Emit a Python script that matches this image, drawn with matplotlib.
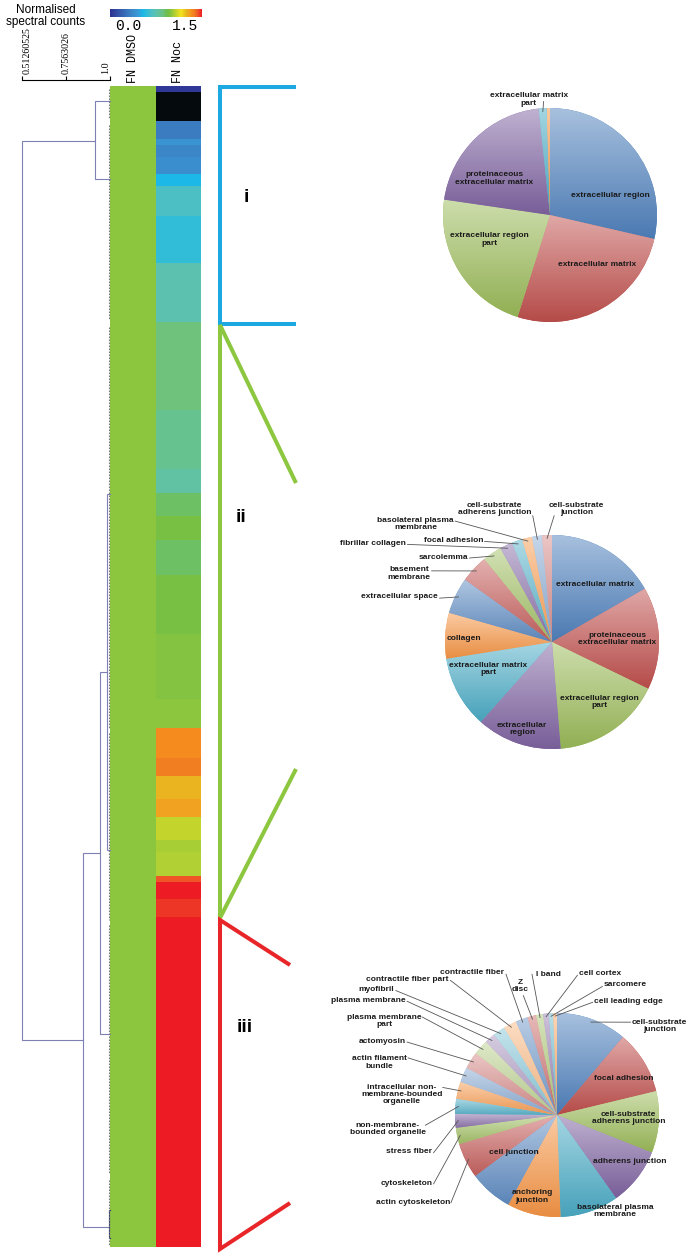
import numpy as np
import matplotlib
matplotlib.use("Agg")
import matplotlib.pyplot as plt
from matplotlib.colors import LinearSegmentedColormap, to_rgb
from matplotlib.transforms import ScaledTranslation

plt.rcParams['font.family'] = ['Liberation Sans', 'DejaVu Sans']

W, H = 691, 1257

# ------------------------------------------------------------------ data
colorbar_title = "Normalised\nspectral counts"
colorbar_ticks = ["0.0", "1.5"]
columns = ["FN DMSO", "FN Noc"]

# heatmap: number of proteins in each block and normalised counts
row_counts = [1, 5, 3, 1, 2, 3, 2, 5, 8, 10, 15, 10, 4, 4, 4, 6, 10, 11, 5,
              5, 3, 4, 3, 4, 2, 4, 1, 3, 3, 56]
fn_noc = [0.03, np.nan, 0.30, 0.42, 0.35, 0.39, 0.54, 0.67, 0.60, 0.75, 0.87,
          0.83, 0.78, 0.90, 0.96, 0.90, 0.96, 0.98, 1.00, 1.34, 1.37, 1.25,
          1.29, 1.08, 1.04, 1.05, 1.43, 1.50, 1.47, 1.50]
fn_dmso = [1.0] * len(row_counts)

cmap_values = [0.00, 0.30, 0.45, 0.54, 0.60, 0.67, 0.75, 0.83, 0.87, 0.92,
               0.96, 1.00, 1.08, 1.16, 1.26, 1.30, 1.34, 1.38, 1.43, 1.50]
cmap_colors = ['#2e3192', '#3b7cc0', '#3a9bd6', '#1bb8e8', '#31bcd8', '#4bbfc4',
               '#5cc2b0', '#66c28f', '#6ec27b', '#6cbf55', '#78c043', '#8cc63f',
               '#c2d52d', '#f3e31f', '#e8b020', '#f2a020', '#f58a1f', '#f07a21',
               '#f05a28', '#ed1c24']

# dendrogram (similarity scale)
dendro_ticks = [0.51260525, 0.7563026, 1.0]
dendro_tick_labels = ["0.51260525", "0.7563026", "1.0"]
# node: (similarity, top row, bottom row, top child similarity, bottom child similarity)
dendro_nodes = [
    (0.51260525, 9.33, 161.88, 0.917, 0.850),
    (0.917, 2.55, 15.78, 1.0, 1.0),
    (0.850, 130.15, 193.6, 0.9446, 0.9945),
    (0.9446, 99.43, 160.86, 0.983, 1.0),
    (0.983, 69.23, 129.64, 1.0, 1.0),
    (0.9945, 190.72, 195.47, 1.0, 1.0),
]
leaf_groups = [(0.5, 5.6), (6.6, 39.7), (40.9, 108.9), (109.8, 141.5),
               (142.4, 184.4), (185.6, 196.7)]

cluster_names = ["i", "ii", "iii"]

pie1_labels = ["extracellular region", "extracellular matrix",
               "extracellular region\npart", "proteinaceous\nextracellular matrix",
               "extracellular matrix\npart", ""]
pie1_values = [28.6, 26.3, 22.4, 21.0, 1.2, 0.5]

pie2_labels = ["extracellular matrix", "proteinaceous\nextracellular matrix",
               "extracellular region\npart", "extracellular\nregion",
               "extracellular matrix\npart", "collagen", "extracellular space",
               "basement\nmembrane", "sarcolemma", "fibrillar collagen",
               "focal adhesion", "basolateral plasma\nmembrane",
               "cell-substrate\nadherens junction", "cell-substrate\njunction"]
pie2_values = [16.7, 15.5, 16.5, 12.9, 10.9, 6.9, 5.5, 4.2, 2.9, 1.9, 1.6,
               1.5, 1.5, 1.5]

pie3_labels = ["cell-substrate\njunction", "focal adhesion",
               "cell-substrate\nadherens junction", "adherens junction",
               "basolateral plasma\nmembrane", "anchoring\njunction",
               "cell junction", "actin cytoskeleton", "cytoskeleton",
               "stress fiber", "non-membrane-\nbounded organelle",
               "intracellular non-\nmembrane-bounded\norganelle",
               "actin filament\nbundle", "actomyosin", "plasma membrane\npart",
               "plasma membrane", "myofibril", "contractile fiber part",
               "contractile fiber", "Z\ndisc", "I band", "cell cortex",
               "sarcomere", "cell leading edge"]
pie3_values = [11.2, 10.1, 9.8, 9.2, 9.3, 8.5, 6.9, 5.6, 2.6, 2.2, 2.4, 2.7,
               2.4, 2.7, 2.4, 1.7, 1.9, 2.1, 1.9, 1.4, 1.1, 0.9, 0.7, 0.6]

# ------------------------------------------------------------------ layout (pie units)
# (x, y, ha, leader start or None)
pie1_pos = [(0.56, 0.18, 'center', None), (0.44, -0.46, 'center', None),
            (-0.57, -0.23, 'center', None), (-0.52, 0.34, 'center', None),
            (-0.20, 1.08, 'center', (-0.06, 1.06)), None]
pie2_pos = [(0.404, 0.534, 'center', None), (0.612, 0.025, 'center', None),
            (0.441, -0.562, 'center', None), (-0.28, -0.81, 'center', None),
            (-0.596, -0.255, 'center', None), (-0.823, 0.031, 'center', None),
            (-1.065, 0.425, 'right', (-1.05, 0.41)),
            (-1.137, 0.64, 'right', (-1.125, 0.665)),
            (-0.783, 0.792, 'right', (-0.77, 0.785)),
            (-1.366, 0.916, 'right', (-1.35, 0.912)),
            (-0.643, 0.947, 'right', (-0.63, 0.94)),
            (-0.916, 1.10, 'right', (-0.905, 1.13)),
            (-0.537, 1.245, 'center', (-0.18, 1.18)),
            (0.227, 1.245, 'center', (0.02, 1.18))]
pie3_pos = [(1.003, 0.873, 'center', (0.72, 0.91)),
            (0.65, 0.36, 'center', None), (0.70, -0.03, 'center', None),
            (0.71, -0.456, 'center', None), (0.57, -0.94, 'center', None),
            (-0.244, -0.80, 'center', None), (-0.42, -0.365, 'center', None),
            (-1.049, -0.853, 'right', (-1.04, -0.86)),
            (-1.222, -0.668, 'right', (-1.21, -0.675)),
            (-1.222, -0.362, 'right', (-1.21, -0.37)),
            (-1.287, -0.137, 'right', (-1.29, -0.10)),
            (-1.124, 0.20, 'right', (-1.12, 0.27)),
            (-1.472, 0.515, 'right', (-1.46, 0.56)),
            (-1.482, 0.723, 'right', (-1.47, 0.715)),
            (-1.329, 0.922, 'right', (-1.32, 0.96)),
            (-1.482, 1.124, 'right', (-1.47, 1.115)),
            (-1.596, 1.228, 'right', (-1.58, 1.22)),
            (-1.06, 1.329, 'right', (-1.045, 1.32)),
            (-0.515, 1.394, 'right', (-0.50, 1.38)),
            (-0.358, 1.264, 'center', (-0.33, 1.17)),
            (-0.202, 1.375, 'left', (-0.245, 1.38)),
            (0.212, 1.384, 'left', (0.20, 1.37)),
            (0.456, 1.277, 'left', (0.445, 1.26)),
            (0.358, 1.114, 'left', (0.35, 1.105))]

# ------------------------------------------------------------------ figure
fig = plt.figure(figsize=(W / 100, H / 100), dpi=100)


def px_axes(x, y, w, h):
    return fig.add_axes([x / W, 1 - (y + h) / H, w / W, h / H])


cmap = LinearSegmentedColormap.from_list(
    'spec', list(zip(np.array(cmap_values) / 1.5, cmap_colors)))
cmap.set_bad('#050a0d')

# heatmap
edges = np.concatenate([[0], np.cumsum(row_counts)])
nrows = edges[-1]
C = np.ma.masked_invalid(np.column_stack([fn_dmso, fn_noc]))
ax_hm = px_axes(110, 86, 91, 1161)
ax_hm.pcolormesh([0, 1, 2], edges, C, cmap=cmap, vmin=0, vmax=1.5, shading='flat')
ax_hm.set_xlim(0, 2)
ax_hm.set_ylim(nrows, 0)
for s in ax_hm.spines.values():
    s.set_visible(False)
ax_hm.set_yticks([])
ax_hm.xaxis.tick_top()
ax_hm.set_xticks([0.5, 1.5])
ax_hm.set_xticklabels(columns, rotation=90, family='Liberation Mono', fontsize=8.5)
ax_hm.tick_params(axis='x', length=0, pad=2)

# colorbar
ax_cb = px_axes(110, 9, 91, 8)
ax_cb.imshow(np.linspace(0, 1.5, 256)[None, :], aspect='auto', cmap=cmap,
             vmin=0, vmax=1.5)
ax_cb.axis('off')
fig.text(128 / W, 1 - 26 / H, colorbar_ticks[0], family='Liberation Mono',
         fontsize=10.5, ha='center', va='center')
fig.text(185 / W, 1 - 26 / H, colorbar_ticks[1], family='Liberation Mono',
         fontsize=10.5, ha='center', va='center')
fig.text(46 / W, 1 - 16 / H, colorbar_title, fontsize=8.5, ha='center',
         va='center', linespacing=1.1)

# dendrogram
dcol = '#7e80b4'
ax_d = px_axes(22, 86, 88, 1161)
ax_d.set_xlim(dendro_ticks[0], 1.0)
ax_d.set_ylim(nrows, 0)
for sim, yt, yb, ct, cb in dendro_nodes:
    col = '#26307a' if sim > 0.99 else dcol
    ax_d.plot([ct, sim, sim, cb], [yt, yt, yb, yb], color=col, lw=0.8,
              clip_on=False, solid_joinstyle='miter')
for a, b in leaf_groups:
    ax_d.plot([0.997, 0.997], [a, b], color='#777777', lw=0.8,
              ls=(0, (1.5, 1.2)), clip_on=False)
for k in ['left', 'right', 'bottom']:
    ax_d.spines[k].set_visible(False)
ax_d.spines['top'].set_position(('outward', 4))
ax_d.spines['top'].set_linewidth(0.8)
ax_d.set_yticks([])
ax_d.xaxis.tick_top()
ax_d.set_xticks(dendro_ticks)
ax_d.set_xticklabels(dendro_tick_labels, rotation=90,
                     family=['Liberation Sans Narrow', 'Liberation Serif'],
                     fontsize=7.2)
ax_d.tick_params(axis='x', direction='out', length=3, width=0.8, pad=1.5)
ax_d.patch.set_visible(False)
labs = ax_d.get_xticklabels()
labs[0].set_transform(labs[0].get_transform() +
                      ScaledTranslation(5 / 100, 0, fig.dpi_scale_trans))
labs[-1].set_transform(labs[-1].get_transform() +
                       ScaledTranslation(-4 / 100, 0, fig.dpi_scale_trans))

# brackets (overlay in pixel coordinates)
ax_ov = fig.add_axes([0, 0, 1, 1])
ax_ov.set_xlim(0, W)
ax_ov.set_ylim(H, 0)
ax_ov.axis('off')
blw = 2.9
ax_ov.plot([296, 220, 220, 296], [86.5, 86.5, 323.5, 323.5], color='#1ca8e0',
           lw=blw, solid_joinstyle='miter', solid_capstyle='butt')
ax_ov.plot([296, 220, 220, 296], [483, 325, 918, 769], color='#8dc63f',
           lw=blw, solid_joinstyle='miter', solid_capstyle='butt')
ax_ov.plot([290, 220, 220, 290], [965, 920, 1249, 1203], color='#e8262a',
           lw=blw, solid_joinstyle='miter', solid_capstyle='butt')
for name, (x, y) in zip(cluster_names, [(246, 198), (241, 518), (245, 1027)]):
    ax_ov.text(x, y, name, fontsize=14, fontweight='bold', ha='center',
               va='center')

# pies
base = ['#4F81BD', '#C0504D', '#9BBB59', '#8064A2', '#4BACC6', '#F79646']
mixes = [0.0, 0.1, 0.35, 0.2]


def mix(c, other, t):
    c = np.array(to_rgb(c))
    return tuple(c * (1 - t) + np.array(other) * t)


def draw_pie(cx, cy, r, values, labels, positions):
    ax = px_axes(cx - r, cy - r, 2 * r, 2 * r)
    cols = [mix(base[i % 6], (1, 1, 1), mixes[(i // 6) % 4])
            for i in range(len(values))]
    wedges, _ = ax.pie(values, startangle=90, counterclock=False, colors=cols,
                       radius=1, wedgeprops=dict(linewidth=0))
    for w, c in zip(wedges, cols):
        light = mix(c, (1, 1, 1), 0.5)
        dark = mix(c, (0, 0, 0), 0.06)
        gcm = LinearSegmentedColormap.from_list('g', [dark, light])
        ext = w.get_path().get_extents()
        im = ax.imshow(np.linspace(0, 1, 128)[:, None],
                       extent=[ext.x0, ext.x1, ext.y0, ext.y1], origin='lower',
                       cmap=gcm, aspect='auto', interpolation='bilinear',
                       zorder=w.get_zorder() + 0.01)
        im.set_clip_path(w)
    for w, lab, pos in zip(wedges, labels, positions):
        if pos is None or not lab:
            continue
        tx, ty, ha, lead = pos
        ax.text(tx, ty, lab, ha=ha, va='center', multialignment='center',
                fontsize=6, fontweight='bold', color='#1a1a1a',
                linespacing=1.05, zorder=5)
        if lead is not None:
            th = np.deg2rad((w.theta1 + w.theta2) / 2)
            ex, ey = 0.97 * np.cos(th), 0.97 * np.sin(th)
            ax.plot([lead[0], ex], [lead[1], ey], color='#555555', lw=0.6,
                    clip_on=False, zorder=4)
    ax.set_xlim(-1, 1)
    ax.set_ylim(-1, 1)
    ax.set_aspect('equal')
    ax.axis('off')


draw_pie(550, 215, 107, pie1_values, pie1_labels, pie1_pos)
draw_pie(552, 642, 107, pie2_values, pie2_labels, pie2_pos)
draw_pie(557, 1115, 102, pie3_values, pie3_labels, pie3_pos)

fig.savefig('out.png', dpi=100)
